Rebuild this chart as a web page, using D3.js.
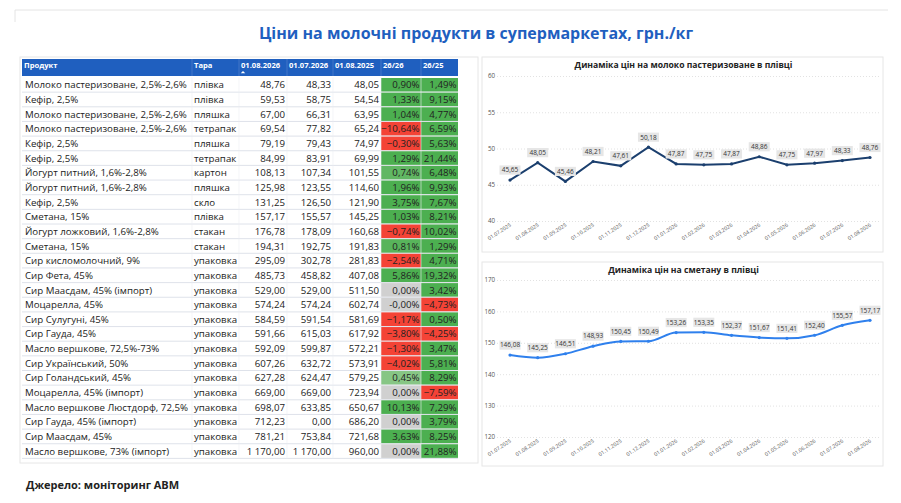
<!DOCTYPE html>
<html>
<head>
<meta charset="utf-8">
<script src="https://cdn.jsdelivr.net/npm/d3@7"></script>
<style>
  body { margin: 0; background: #fff; }
  svg { display: block; font-family: "Open Sans", "Noto Sans", sans-serif; }
</style>
</head>
<body>
<svg id="chart" width="901" height="503"></svg>
<script>
// ---- table data ----
const products = [
  "Молоко пастеризоване, 2,5%-2,6%", "Кефір, 2,5%", "Молоко пастеризоване, 2,5%-2,6%",
  "Молоко пастеризоване, 2,5%-2,6%", "Кефір, 2,5%", "Кефір, 2,5%",
  "Йогурт питний, 1,6%-2,8%", "Йогурт питний, 1,6%-2,8%", "Кефір, 2,5%", "Сметана, 15%",
  "Йогурт ложковий, 1,6%-2,8%", "Сметана, 15%", "Сир кисломолочний, 9%", "Сир Фета, 45%",
  "Сир Маасдам, 45% (імпорт)", "Моцарелла, 45%", "Сир Сулугуні, 45%", "Сир Гауда, 45%",
  "Масло вершкове, 72,5%-73%", "Сир Український, 50%", "Сир Голандський, 45%",
  "Моцарелла, 45% (імпорт)", "Масло вершкове Люстдорф, 72,5%", "Сир Гауда, 45% (імпорт)",
  "Сир Маасдам, 45%", "Масло вершкове, 73% (імпорт)"
];
const packs = [
  "плівка", "плівка", "пляшка", "тетрапак", "пляшка", "тетрапак", "картон", "пляшка", "скло",
  "плівка", "стакан", "стакан", "упаковка", "упаковка", "упаковка", "упаковка", "упаковка",
  "упаковка", "упаковка", "упаковка", "упаковка", "упаковка", "упаковка", "упаковка",
  "упаковка", "упаковка"
];
const priceAug26 = [48.76, 59.53, 67.00, 69.54, 79.19, 84.99, 108.13, 125.98, 131.25, 157.17,
  176.78, 194.31, 295.09, 485.73, 529.00, 574.24, 584.59, 591.66, 592.09, 607.26, 627.28,
  669.00, 698.07, 712.23, 781.21, 1170.00];
const priceJul26 = [48.33, 58.75, 66.31, 77.82, 79.43, 83.91, 107.34, 123.55, 126.50, 155.57,
  178.09, 192.75, 302.78, 458.82, 529.00, 574.24, 591.54, 615.03, 599.87, 632.72, 624.47,
  669.00, 633.85, 0.00, 753.84, 1170.00];
const priceAug25 = [48.05, 54.54, 63.95, 65.24, 74.97, 69.99, 101.55, 114.60, 121.90, 145.25,
  160.68, 191.83, 281.83, 407.08, 511.50, 602.74, 581.69, 617.92, 572.21, 573.91, 579.25,
  723.94, 650.67, 686.20, 721.68, 960.00];
const chMonth = [0.90, 1.33, 1.04, -10.64, -0.30, 1.29, 0.74, 1.96, 3.75, 1.03, -0.74, 0.81,
  -2.54, 5.86, 0.00, -0, -1.17, -3.80, -1.30, -4.02, 0.45, 0.00, 10.13, 0.00, 3.63, 0.00];
const chYear = [1.49, 9.15, 4.77, 6.59, 5.63, 21.44, 6.48, 9.93, 7.67, 8.21, 10.02, 1.29, 4.71,
  19.32, 3.42, -4.73, 0.50, -4.25, 3.47, 5.81, 8.29, -7.59, 7.29, 3.79, 8.25, 21.88];
const headers = ["Продукт", "Тара", "01.08.2026", "01.07.2026", "01.08.2025", "26/26", "26/25"];

// ---- line chart data ----
const months = ["01.07.2025", "01.08.2025", "01.09.2025", "01.10.2025", "01.11.2025",
  "01.12.2025", "01.01.2026", "01.02.2026", "01.03.2026", "01.04.2026", "01.05.2026",
  "01.06.2026", "01.07.2026", "01.08.2026"];
const milkFilm = [45.65, 48.05, 45.46, 48.21, 47.61, 50.18, 47.87, 47.75, 47.87, 48.86, 47.75,
  47.97, 48.33, 48.76];
const sourCreamFilm = [146.08, 145.25, 146.51, 148.93, 150.45, 150.49, 153.26, 153.35, 152.37,
  151.67, 151.41, 152.40, 155.57, 157.17];
const milkTicks = [40, 45, 50, 55, 60];
const creamTicks = [120, 130, 140, 150, 160, 170];

const ua = d3.formatLocale({ decimal: ",", thousands: "\u00a0", grouping: [3], currency: ["", ""] });
const fmtPrice = ua.format(",.2f");
const fmtPct = v => (Object.is(v, -0) ? "-" : "") + ua.format(".2f")(v) + "%";

const svg = d3.select("#chart");

// page frame + title
svg.append("line").attr("x1", 15).attr("x2", 888).attr("y1", 10).attr("y2", 10)
  .attr("stroke", "#e4e4e4");
svg.append("line").attr("x1", 15).attr("x2", 15).attr("y1", 10).attr("y2", 22)
  .attr("stroke", "#e4e4e4");
svg.append("text")
  .attr("x", 476).attr("y", 39)
  .attr("text-anchor", "middle")
  .attr("font-size", 16).attr("font-weight", "bold")
  .attr("fill", "#1f5fbf")
  .text("Ціни на молочні продукти в супермаркетах, грн./кг");

// ---- table ----
const colEdges = [22, 192, 239, 287, 333, 381, 421, 458];
const headTop = 59, headH = 17, rowTop = 77.5, rowH = 14.65;
const rows = d3.range(products.length);

const yRow = d3.scaleBand().domain(rows).range([rowTop, rowTop + rowH * rows.length]);

svg.append("rect").attr("x", 20).attr("y", 57).attr("width", 458).attr("height", 406)
  .attr("fill", "none").attr("stroke", "#e6e6e6");

const greenFull = "#4caf50";
const monthGreen = d3.scaleLinear().domain([0.4, 0.9]).range(["#8dc98b", greenFull]).clamp(true);
const colorMonth = v => v === 0 ? "#d0d0d0" : v < 0 ? "#f44336" : monthGreen(v);
const colorYear = v => v === 0 ? "#d0d0d0" : v < 0 ? "#f44336" : greenFull;

// header
svg.append("rect").attr("x", colEdges[0]).attr("y", headTop)
  .attr("width", colEdges[7] - colEdges[0]).attr("height", headH).attr("fill", "#1f5fbf");
headers.forEach((h, i) => {
  if (i > 0) {
    svg.append("line").attr("x1", colEdges[i]).attr("x2", colEdges[i])
      .attr("y1", headTop).attr("y2", headTop + headH).attr("stroke", "#5a86cf").attr("stroke-width", 0.6);
  }
  svg.append("text").attr("x", colEdges[i] + 2).attr("y", headTop + 8.5)
    .attr("font-size", 7.6).attr("font-weight", "bold").attr("fill", "#fff").text(h);
});
svg.append("path")
  .attr("d", d3.symbol(d3.symbolTriangle, 9)())
  .attr("transform", `translate(${colEdges[2] + 4},${headTop + 13.5}) scale(1,0.6)`)
  .attr("fill", "#fff");

const body = svg.append("g");
const row = body.selectAll("g.row").data(rows).join("g").attr("class", "row")
  .attr("transform", i => `translate(0,${yRow(i)})`);

row.append("rect").attr("x", colEdges[5]).attr("y", 0.5)
  .attr("width", colEdges[6] - colEdges[5]).attr("height", rowH - 1)
  .attr("fill", i => colorMonth(chMonth[i]));
row.append("rect").attr("x", colEdges[6]).attr("y", 0.5)
  .attr("width", colEdges[7] - colEdges[6]).attr("height", rowH - 1)
  .attr("fill", i => colorYear(chYear[i]));

row.append("line").attr("x1", colEdges[0]).attr("x2", colEdges[7])
  .attr("y1", rowH).attr("y2", rowH).attr("stroke", "#d5dbe4").attr("stroke-width", 0.8);
colEdges.slice(1, 7).forEach(x => {
  row.append("line").attr("x1", x).attr("x2", x).attr("y1", 0).attr("y2", rowH)
    .attr("stroke", "#eceff3").attr("stroke-width", 0.6);
});

const textY = rowH / 2 + 3.6;
const cellFont = 9.7;
row.append("text").attr("x", colEdges[0] + 3).attr("y", textY)
  .attr("font-size", cellFont).attr("fill", "#222").text(i => products[i]);
row.append("text").attr("x", colEdges[1] + 2).attr("y", textY)
  .attr("font-size", cellFont).attr("fill", "#222").text(i => packs[i]);
[priceAug26, priceJul26, priceAug25].forEach((arr, k) => {
  row.append("text").attr("x", colEdges[k + 3] - 2).attr("y", textY)
    .attr("text-anchor", "end").attr("font-size", cellFont).attr("fill", "#222")
    .text(i => fmtPrice(arr[i]));
});
[chMonth, chYear].forEach((arr, k) => {
  row.append("text").attr("x", colEdges[k + 6] - 1.5).attr("y", textY)
    .attr("text-anchor", "end").attr("font-size", cellFont).attr("fill", "#222")
    .text(i => fmtPct(arr[i]));
});

svg.append("text").attr("x", 26).attr("y", 489)
  .attr("font-size", 11).attr("font-weight", "bold").attr("fill", "#222")
  .text("Джерело: моніторинг АВМ");

// ---- line charts ----
function lineChart(opt) {
  const g = svg.append("g");
  g.append("rect").attr("x", opt.box[0]).attr("y", opt.box[1])
    .attr("width", opt.box[2] - opt.box[0]).attr("height", opt.box[3] - opt.box[1])
    .attr("fill", "#fff").attr("stroke", "#e6e6e6");
  g.append("text").attr("x", (opt.box[0] + opt.box[2]) / 2 + 1).attr("y", opt.box[1] + 11)
    .attr("text-anchor", "middle").attr("font-size", 8.6).attr("font-weight", "bold")
    .attr("fill", "#222").text(opt.title);

  const x = d3.scalePoint().domain(months).range([510, 870]);
  const y = d3.scaleLinear().domain(d3.extent(opt.ticks)).range(opt.yRange);

  const yAxis = g.append("g").attr("transform", "translate(497,0)")
    .call(d3.axisLeft(y).tickValues(opt.ticks).tickSize(-383).tickPadding(2));
  yAxis.select(".domain").remove();
  yAxis.selectAll(".tick line").attr("stroke", "#e2e2e2").attr("stroke-dasharray", "1,2");
  yAxis.selectAll(".tick text").attr("font-size", 6.2).attr("fill", "#555")
    .attr("font-family", "Open Sans, sans-serif");

  const xAxis = g.append("g").attr("transform", `translate(0,${opt.yRange[0]})`)
    .call(d3.axisBottom(x).tickSize(0).tickPadding(0));
  xAxis.select(".domain").remove();
  xAxis.selectAll(".tick text")
    .attr("font-size", 5.2).attr("fill", "#555").attr("font-family", "Open Sans, sans-serif")
    .attr("text-anchor", "end").attr("dy", 0)
    .attr("transform", "translate(1,5) rotate(-33)");

  const line = d3.line().x((d, i) => x(months[i])).y(d => y(d)).curve(opt.curve);
  g.append("path").datum(opt.values).attr("d", line)
    .attr("fill", "none").attr("stroke", opt.color).attr("stroke-width", 2);
  g.selectAll("circle.pt").data(opt.values).join("circle").attr("class", "pt")
    .attr("cx", (d, i) => x(months[i])).attr("cy", d => y(d)).attr("r", 1.6)
    .attr("fill", opt.color);

  const lbl = g.selectAll("g.lbl").data(opt.values).join("g").attr("class", "lbl")
    .attr("transform", (d, i) => `translate(${x(months[i])},${y(d) - 10})`);
  lbl.append("rect").attr("x", -10.5).attr("y", -4.6).attr("width", 21).attr("height", 9.2)
    .attr("fill", "#e6e6e6");
  lbl.append("text").attr("text-anchor", "middle").attr("y", 2.3)
    .attr("font-size", 6.5).attr("fill", "#333").text(d => ua.format(".2f")(d));
}

lineChart({
  box: [482, 57, 883, 252],
  title: "Динаміка цін на молоко пастеризоване в плівці",
  values: milkFilm, ticks: milkTicks, yRange: [221, 76],
  color: "#1b3f6e", curve: d3.curveLinear
});
lineChart({
  box: [482, 262, 883, 466],
  title: "Динаміка цін на сметану в плівці",
  values: sourCreamFilm, ticks: creamTicks, yRange: [437, 280],
  color: "#2f80ed", curve: d3.curveMonotoneX
});
</script>
</body>
</html>
